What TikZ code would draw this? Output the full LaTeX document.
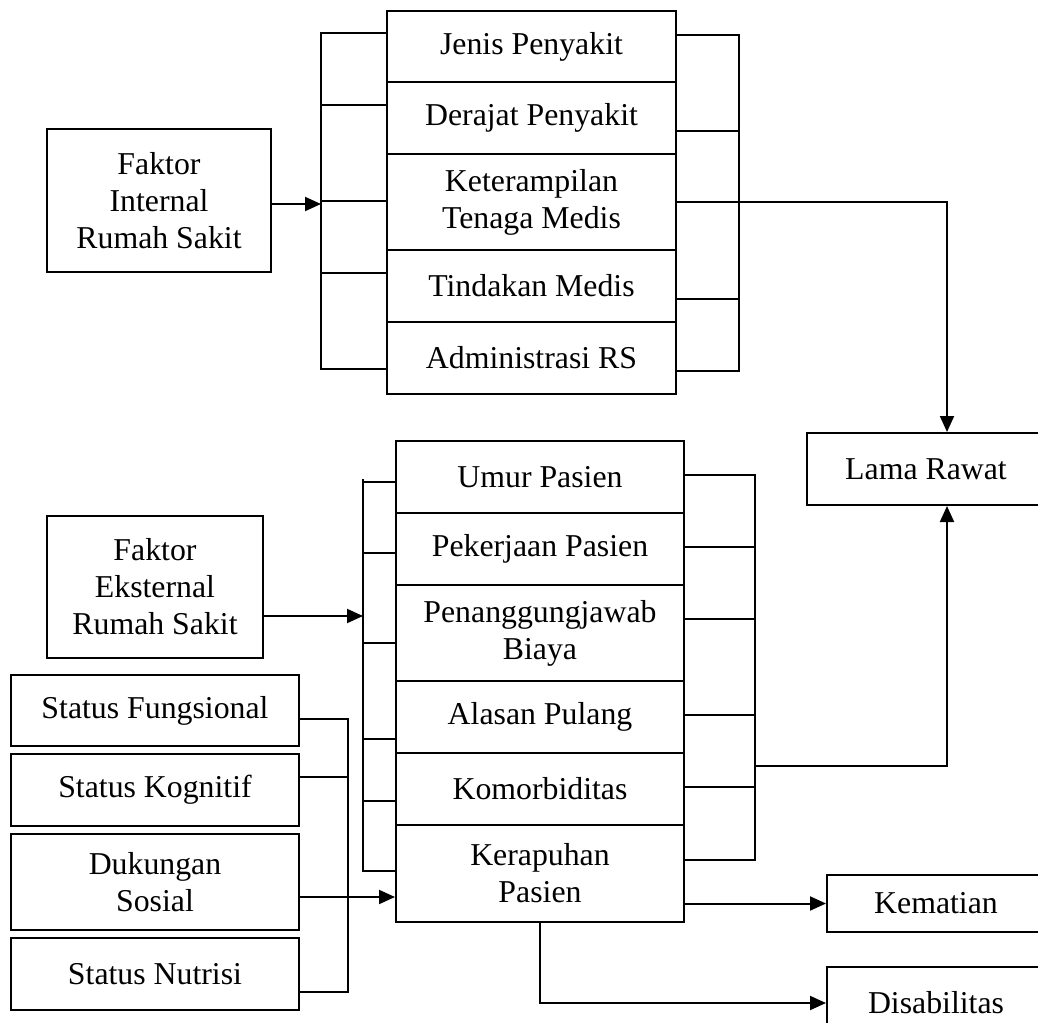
\documentclass[tikz,border=0pt]{standalone}
\usepackage{fontspec}
\setmainfont{Liberation Serif}
\usetikzlibrary{arrows.meta}
\begin{document}
\begin{tikzpicture}[x=1pt,y=-1pt,line width=2pt,
  box/.style={draw,line width=2pt,inner sep=0pt,align=center,font=\fontsize{31.8pt}{37pt}\selectfont},
  link/.style={line cap=rect},
  arr/.style={-{Triangle[length=16pt,width=14pt]}}]
\clip (0,0) rectangle (1038,1022);
% factor boxes
\node[box,minimum width=224pt,minimum height=143pt] (fint) at (159,200.5) {Faktor\\Internal\\Rumah Sakit};
\node[box,minimum width=216pt,minimum height=142pt] (fext) at (155,587) {Faktor\\Eksternal\\Rumah Sakit};
% top stack
\node[box,minimum width=289pt,minimum height=71pt] (jenis) at (531.5,46.5) {Jenis Penyakit};
\node[box,minimum width=289pt,minimum height=72pt] (derajat) at (531.5,118) {Derajat Penyakit};
\node[box,minimum width=289pt,minimum height=96pt] (ketr) at (531.5,202) {Keterampilan\\Tenaga Medis};
\node[box,minimum width=289pt,minimum height=72pt] (tind) at (531.5,286) {Tindakan Medis};
\node[box,minimum width=289pt,minimum height=72pt] (adm) at (531.5,358) {Administrasi RS};
% bottom stack
\node[box,minimum width=288pt,minimum height=72pt] (umur) at (540,477) {Umur Pasien};
\node[box,minimum width=288pt,minimum height=72pt] (pekr) at (540,549) {Pekerjaan Pasien};
\node[box,minimum width=288pt,minimum height=96pt] (biaya) at (540,633) {Penanggungjawab\\Biaya};
\node[box,minimum width=288pt,minimum height=72pt] (alasan) at (540,717) {Alasan Pulang};
\node[box,minimum width=288pt,minimum height=72pt] (komor) at (540,789) {Komorbiditas};
\node[box,minimum width=288pt,minimum height=97pt] (kerap) at (540,873.5) {Kerapuhan\\Pasien};
% left small boxes
\node[box,minimum width=288pt,minimum height=71pt] (fung) at (155,710.5) {Status Fungsional};
\node[box,minimum width=288pt,minimum height=72pt] (kogn) at (155,790) {Status Kognitif};
\node[box,minimum width=288pt,minimum height=96pt] (duk) at (155,882) {Dukungan\\Sosial};
\node[box,minimum width=288pt,minimum height=72pt] (nutr) at (155,974) {Status Nutrisi};
% outcome boxes
\node[box,minimum width=238pt,minimum height=72pt] (lama) at (926,469) {Lama Rawat};
\node[box,minimum width=218pt,minimum height=57pt] (kemat) at (936,903.5) {Kematian};
\node[box,minimum width=218pt,minimum height=72pt] (disab) at (936,1003) {Disabilitas};
% top-left bracket
\coordinate (tla) at (321,33);
\coordinate (tlb) at (321,105);
\coordinate (tlc) at (321,201);
\coordinate (tld) at (321,273);
\coordinate (tle) at (321,369);
\coordinate (tlin) at (321,204);
\draw[link] (tla -| jenis.west) -- (tla) -- (tle) -- (tle -| adm.west);
\draw (tlb) -- (tlb -| derajat.west);
\draw (tlc) -- (tlc -| ketr.west);
\draw (tld) -- (tld -| tind.west);
\draw[arr] (tlin -| fint.east) -- (tlin);
% top-right bracket
\coordinate (tra) at (739,35);
\coordinate (trb) at (739,131);
\coordinate (trc) at (739,202);
\coordinate (trd) at (739,299);
\coordinate (tre) at (739,371);
\draw[link] (tra -| jenis.east) -- (tra) -- (tre) -- (tre -| adm.east);
\draw (trb) -- (trb -| derajat.east);
\draw (trc) -- (trc -| ketr.east);
\draw (trd) -- (trd -| tind.east);
\coordinate (topcorner) at (947,202);
\draw[arr] (trc) -- (topcorner) -- (lama.north -| topcorner);
% bottom-left bracket
\coordinate (bltop) at (363,480);
\coordinate (bla) at (363,482);
\coordinate (blb) at (363,553);
\coordinate (blc) at (363,643);
\coordinate (bld) at (363,739);
\coordinate (ble) at (363,801);
\coordinate (blf) at (363,871);
\coordinate (blin) at (363,616);
\draw[link] (bltop) -- (blf) -- (blf -| kerap.west);
\draw (bla) -- (bla -| umur.west);
\draw (blb) -- (blb -| pekr.west);
\draw (blc) -- (blc -| biaya.west);
\draw (bld) -- (bld -| alasan.west);
\draw (ble) -- (ble -| komor.west);
\draw[arr] (blin -| fext.east) -- (blin);
% bottom-right bracket
\coordinate (bra) at (755,475);
\coordinate (brb) at (755,547);
\coordinate (brc) at (755,619);
\coordinate (brd) at (755,715);
\coordinate (bre) at (755,787);
\coordinate (brf) at (755,860);
\coordinate (brout) at (755,766);
\draw[link] (bra -| umur.east) -- (bra) -- (brf) -- (brf -| kerap.east);
\draw (brb) -- (brb -| pekr.east);
\draw (brc) -- (brc -| biaya.east);
\draw (brd) -- (brd -| alasan.east);
\draw (bre) -- (bre -| komor.east);
\coordinate (botcorner) at (947,766);
\draw[arr] (brout) -- (botcorner) -- (lama.south -| botcorner);
% status connectors
\coordinate (sa) at (348,719);
\coordinate (sb) at (348,777);
\coordinate (sc) at (348,897);
\coordinate (sd) at (348,992);
\draw[link] (sa -| fung.east) -- (sa) -- (sd) -- (sd -| nutr.east);
\draw (sb) -- (sb -| kogn.east);
\draw (sc) -- (sc -| duk.east);
\draw[arr] (sc) -- (sc -| kerap.west);
% outcomes
\draw[arr] (kemat.west -| kerap.east) -- (kemat.west);
\draw[arr] (kerap.south) -- (kerap.south |- disab.west) -- (disab.west);
\end{tikzpicture}
\end{document}
